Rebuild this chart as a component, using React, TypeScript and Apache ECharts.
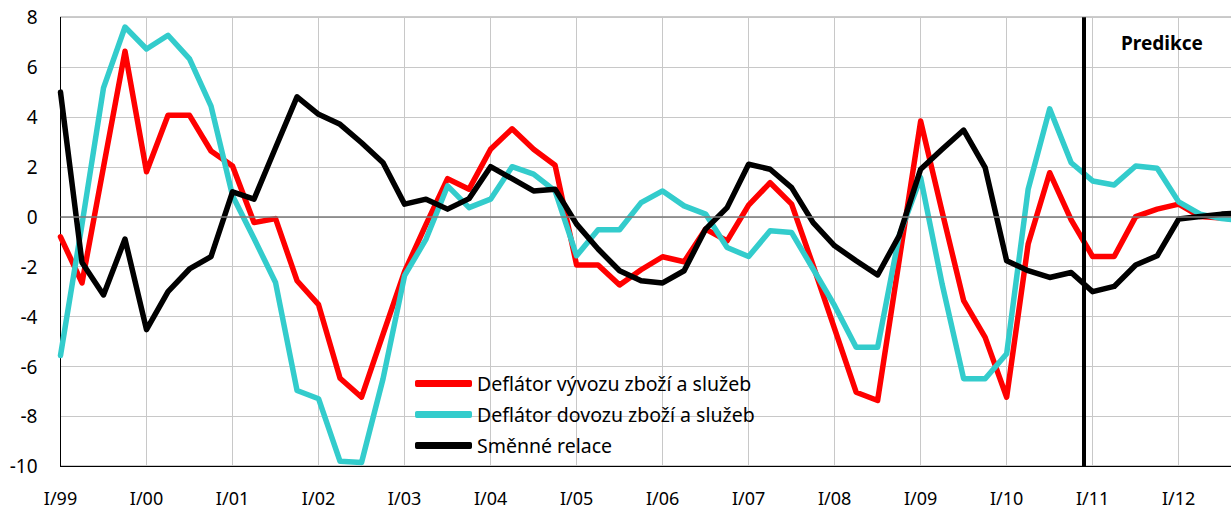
import React, { useEffect, useRef } from "react";
import * as echarts from "echarts";

const yearLabels = ["I/99", "I/00", "I/01", "I/02", "I/03", "I/04", "I/05", "I/06", "I/07", "I/08", "I/09", "I/10", "I/11", "I/12"];

const seriesNames = ["Deflátor vývozu zboží a služeb", "Deflátor dovozu zboží a služeb", "Směnné relace"];

const exportDeflator = [
  -0.8, -2.65, 2.0, 6.64, 1.81, 4.07, 4.07, 2.64, 2.04, -0.23, -0.07, -2.56, -3.52, -6.47,
  -7.23, -4.7, -2.2, -0.3, 1.53, 1.11, 2.71, 3.53, 2.71, 2.07, -1.93, -1.93, -2.73, -2.12,
  -1.6, -1.8, -0.49, -0.96, 0.47, 1.37, 0.51, -1.95, -4.49, -7.03, -7.36, -1.75, 3.84, 0.2,
  -3.36, -4.83, -7.23, -1.09, 1.77, -0.12, -1.59, -1.59, 0.01, 0.31, 0.51, 0.01, -0.05, -0.1,
];

const importDeflator = [
  -5.56, -0.3, 5.17, 7.61, 6.73, 7.28, 6.33, 4.44, 0.85, -0.87, -2.63, -6.96, -7.29, -9.8,
  -9.85, -6.49, -2.36, -0.89, 1.24, 0.37, 0.71, 2.01, 1.71, 1.04, -1.56, -0.52, -0.52, 0.57,
  1.04, 0.44, 0.11, -1.23, -1.59, -0.56, -0.63, -2.09, -3.56, -5.23, -5.23, -0.76, 1.57, -2.7,
  -6.49, -6.49, -5.49, 1.11, 4.33, 2.17, 1.44, 1.28, 2.04, 1.95, 0.6, 0.11, -0.07, -0.15,
];

const termsOfTrade = [
  5.0, -1.83, -3.13, -0.89, -4.52, -3.0, -2.09, -1.59, 1.0, 0.71, 2.77, 4.81, 4.11, 3.71,
  2.97, 2.17, 0.51, 0.71, 0.31, 0.73, 2.01, 1.53, 1.04, 1.11, -0.29, -1.29, -2.16, -2.56,
  -2.65, -2.16, -0.49, 0.37, 2.11, 1.91, 1.17, -0.23, -1.16, -1.76, -2.33, -0.76, 1.91, 2.71,
  3.48, 1.97, -1.76, -2.16, -2.43, -2.23, -3.0, -2.79, -1.93, -1.56, -0.09, 0.01, 0.11, 0.17,
];

const forecastStart = 47.6;
const predictionLabel = "Predikce";

const FONT = '"Noto Sans", "DejaVu Sans", sans-serif';

const toPairs = (arr: number[]) => arr.map((v, i) => [i, v]);

export default function App() {
  const ref = useRef<HTMLDivElement>(null);

  useEffect(() => {
    if (!ref.current) return;
    const chart = echarts.init(ref.current, undefined, { renderer: "svg" });
    const lineCommon = {
      type: "line" as const,
      showSymbol: false,
      symbol: "none",
      z: 3,
      lineStyle: { width: 5.5, join: "round", cap: "round" },
    };
    chart.setOption({
      animation: false,
      backgroundColor: "#ffffff",
      grid: {
        left: 60.5,
        top: 17.3,
        height: 449,
        width: 1182.7,
        outerBoundsMode: "none",
        containLabel: false,
        show: true,
        borderColor: "#000000",
        borderWidth: 1,
      },
      legend: {
        data: seriesNames,
        orient: "vertical",
        left: 415,
        top: 373,
        icon: "roundRect",
        itemWidth: 57,
        itemHeight: 7,
        itemGap: 10,
        textStyle: { fontFamily: FONT, fontSize: 19.5, color: "#000", lineHeight: 21, padding: [0, 0, 0, 0] },
        padding: 0,
      },
      xAxis: {
        type: "value",
        min: 0,
        max: 55,
        interval: 4,
        axisLine: { show: true, onZero: false, lineStyle: { color: "#000", width: 1 } },
        axisTick: { show: false },
        axisLabel: {
          margin: 23,
          fontFamily: FONT,
          fontSize: 18,
          lineHeight: 18,
          color: "#000",
          formatter: (v: number) => yearLabels[Math.round(v / 4)] ?? "",
        },
        splitLine: { show: true, lineStyle: { color: "#c8c8c8", width: 1 } },
      },
      yAxis: {
        type: "value",
        min: -10,
        max: 8,
        interval: 2,
        axisLine: { show: true, lineStyle: { color: "#000", width: 1 } },
        axisTick: { show: false },
        axisLabel: { margin: 23, fontFamily: FONT, fontSize: 19, color: "#000" },
        splitLine: { show: true, lineStyle: { color: "#c8c8c8", width: 1 } },
      },
      graphic: [
        {
          type: "text",
          x: 1162,
          y: 43,
          z: 10,
          style: {
            text: predictionLabel,
            fontFamily: FONT,
            fontSize: 19,
            fontWeight: "bold",
            fill: "#000",
            align: "center",
            verticalAlign: "middle",
          },
        },
      ],
      series: [
        {
          name: "zero",
          type: "line",
          data: [],
          z: 1,
          silent: true,
          markLine: {
            silent: true,
            symbol: "none",
            label: { show: false },
            lineStyle: { color: "#7a7a7a", width: 1.5, type: "solid" },
            data: [{ yAxis: 0 }],
          },
        },
        { ...lineCommon, name: seriesNames[0], data: toPairs(exportDeflator), color: "#ff0000", lineStyle: { ...lineCommon.lineStyle, color: "#ff0000" } },
        { ...lineCommon, name: seriesNames[1], data: toPairs(importDeflator), color: "#33cccc", lineStyle: { ...lineCommon.lineStyle, color: "#33cccc" } },
        {
          ...lineCommon,
          name: seriesNames[2],
          data: toPairs(termsOfTrade),
          color: "#000000",
          lineStyle: { ...lineCommon.lineStyle, color: "#000000" },
          markLine: {
            silent: true,
            symbol: "none",
            label: { show: false },
            lineStyle: { color: "#000", width: 4, type: "solid" },
            data: [{ xAxis: forecastStart }],
          },
        },
      ],
    });
    return () => chart.dispose();
  }, []);

  return <div ref={ref} style={{ position: "fixed", left: 0, top: 0, width: "1231px", height: "510px" }} />;
}
